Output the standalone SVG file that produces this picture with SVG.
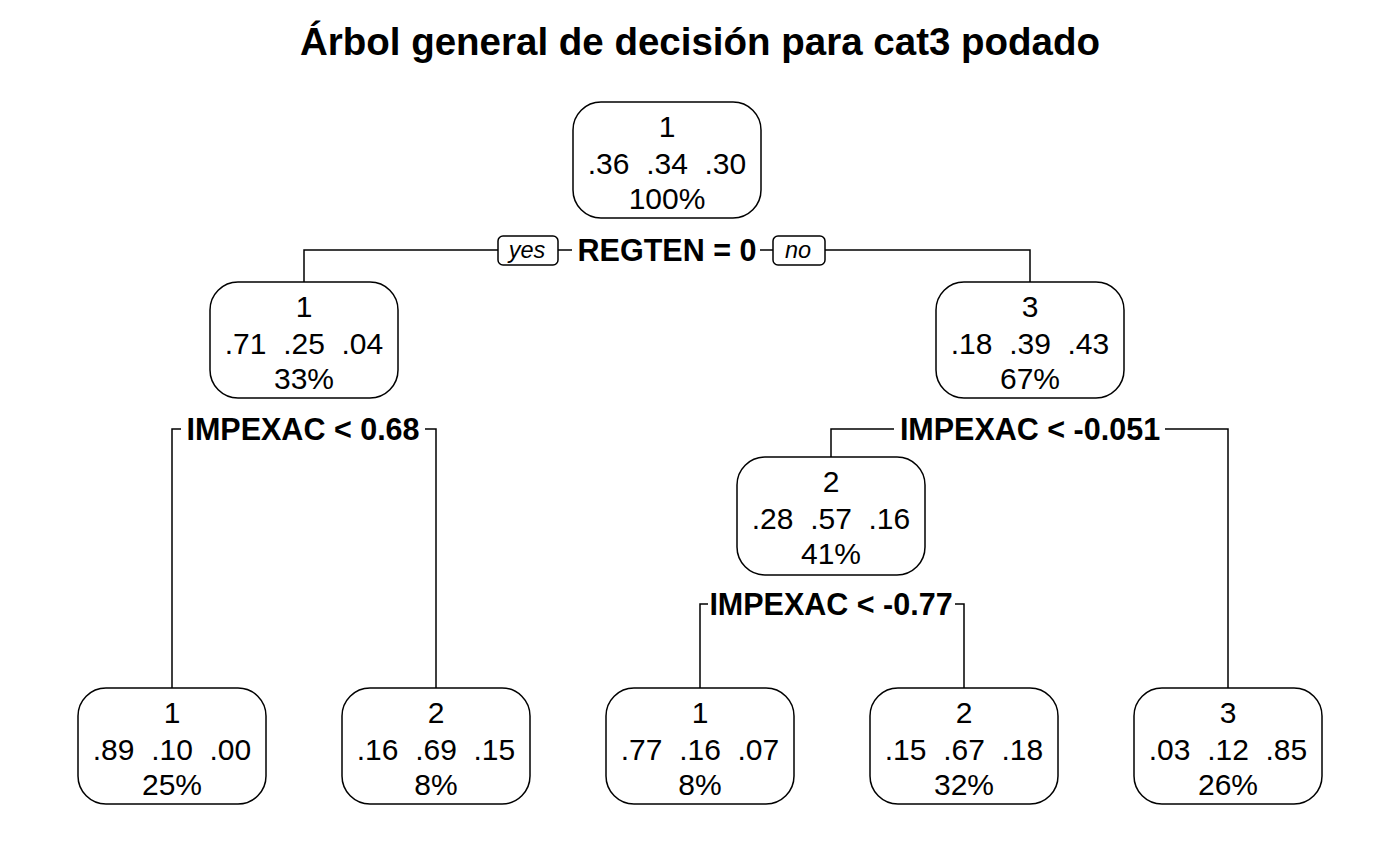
<svg xmlns="http://www.w3.org/2000/svg" width="1400" height="865" viewBox="0 0 1400 865">
<style>
text{font-family:"Liberation Sans",Arial,sans-serif;fill:#000;white-space:pre}
.t{font-size:38.5px;font-weight:bold;text-anchor:middle}
.n{font-size:30px;text-anchor:middle}
.s{font-size:30.5px;font-weight:bold;text-anchor:middle}
.yn{font-size:23.5px;font-style:italic;text-anchor:middle}
.box{fill:#fff;stroke:#000;stroke-width:1.5}
.ln{fill:none;stroke:#000;stroke-width:1.5}
</style>
<rect width="1400" height="865" fill="#fff"/>
<text class="t" x="700" y="55">Árbol general de decisión para cat3 podado</text>
<g id="connectors">
<polyline class="ln" points="304,282 304,250 498,250"/>
<line class="ln" x1="558" y1="250" x2="572" y2="250"/>
<line class="ln" x1="760" y1="250" x2="773" y2="250"/>
<polyline class="ln" points="825,250 1030,250 1030,282"/>
<rect class="box" x="498" y="236" width="60" height="29" rx="5"/>
<text class="yn" x="527" y="258">yes</text>
<rect class="box" x="773" y="236" width="52" height="29" rx="5"/>
<text class="yn" x="798" y="258">no</text>
<text class="s" x="667" y="261">REGTEN = 0</text>
<polyline class="ln" points="172,688 172,429 181,429"/>
<polyline class="ln" points="425,429 436,429 436,688"/>
<text class="s" x="303" y="440">IMPEXAC &lt; 0.68</text>
<polyline class="ln" points="831,457 831,429 894,429"/>
<polyline class="ln" points="1165,429 1228,429 1228,688"/>
<text class="s" x="1030" y="440">IMPEXAC &lt; -0.051</text>
<polyline class="ln" points="700,688 700,604 708,604"/>
<polyline class="ln" points="955,604 964,604 964,688"/>
<text class="s" x="831" y="615">IMPEXAC &lt; -0.77</text>
</g>
<g id="n1"><rect class="box" x="573" y="102" width="188" height="116" rx="28"/>
<text class="n" x="667" y="137">1</text><text class="n" x="667" y="174">.36  .34  .30</text><text class="n" x="667" y="209">100%</text></g>
<g id="n2"><rect class="box" x="210" y="282" width="188" height="116" rx="28"/>
<text class="n" x="304" y="317">1</text><text class="n" x="304" y="354">.71  .25  .04</text><text class="n" x="304" y="389">33%</text></g>
<g id="n3"><rect class="box" x="936" y="282" width="188" height="116" rx="28"/>
<text class="n" x="1030" y="317">3</text><text class="n" x="1030" y="354">.18  .39  .43</text><text class="n" x="1030" y="389">67%</text></g>
<g id="n6"><rect class="box" x="737" y="457" width="188" height="118" rx="28"/>
<text class="n" x="831" y="492">2</text><text class="n" x="831" y="529">.28  .57  .16</text><text class="n" x="831" y="564">41%</text></g>
<g id="n4"><rect class="box" x="78" y="688" width="188" height="116" rx="28"/>
<text class="n" x="172" y="723">1</text><text class="n" x="172" y="760">.89  .10  .00</text><text class="n" x="172" y="795">25%</text></g>
<g id="n5"><rect class="box" x="342" y="688" width="188" height="116" rx="28"/>
<text class="n" x="436" y="723">2</text><text class="n" x="436" y="760">.16  .69  .15</text><text class="n" x="436" y="795">8%</text></g>
<g id="n12"><rect class="box" x="606" y="688" width="188" height="116" rx="28"/>
<text class="n" x="700" y="723">1</text><text class="n" x="700" y="760">.77  .16  .07</text><text class="n" x="700" y="795">8%</text></g>
<g id="n13"><rect class="box" x="870" y="688" width="188" height="116" rx="28"/>
<text class="n" x="964" y="723">2</text><text class="n" x="964" y="760">.15  .67  .18</text><text class="n" x="964" y="795">32%</text></g>
<g id="n7"><rect class="box" x="1134" y="688" width="188" height="116" rx="28"/>
<text class="n" x="1228" y="723">3</text><text class="n" x="1228" y="760">.03  .12  .85</text><text class="n" x="1228" y="795">26%</text></g>
</svg>
